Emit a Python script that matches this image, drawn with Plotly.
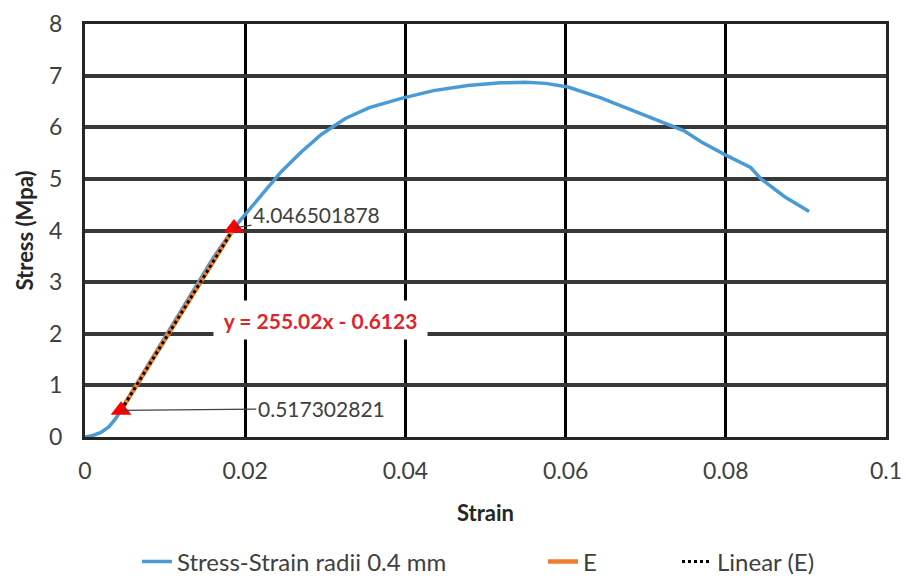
import numpy as np
import plotly.graph_objects as go

# ---- data ----
strain = [0, 0.001, 0.002, 0.003, 0.0038, 0.0045, 0.008, 0.012, 0.016, 0.0186,
          0.0200, 0.0220, 0.0245, 0.0270, 0.0295, 0.0325, 0.0355, 0.0395, 0.0435,
          0.0478, 0.0519, 0.0550, 0.0575, 0.0603, 0.0644, 0.0685, 0.0728, 0.0748,
          0.0769, 0.0800, 0.0831, 0.0844, 0.0873, 0.0904]
stress = [0, 0.03, 0.09, 0.20, 0.35, 0.52, 1.43, 2.45, 3.47, 4.05,
          4.30, 4.68, 5.14, 5.52, 5.86, 6.17, 6.38, 6.56, 6.71,
          6.81, 6.86, 6.87, 6.85, 6.78, 6.57, 6.32, 6.07, 5.93,
          5.72, 5.46, 5.22, 5.00, 4.66, 4.37]

e_strain = [0.0045, 0.0186]
e_stress = [0.517302821, 4.046501878]
e_labels = ["0.517302821", "4.046501878"]
e_label_pos = [(0.0295, 0.552), (0.0289, 4.31)]

equation_text = "y = 255.02x - 0.6123"
equation_pos = (0.0294, 2.27)

x_ticks = [0, 0.02, 0.04, 0.06, 0.08, 0.1]
x_ticktext = ["0", "0.02", "0.04", "0.06", "0.08", "0.1"]
y_ticks = [0, 1, 2, 3, 4, 5, 6, 7, 8]

FONT = "Lato, Liberation Sans, Arial, sans-serif"
TXT = "#404040"

# linear trendline of E
coef = np.polyfit(e_strain, e_stress, 1)
fit_x = np.array(e_strain)
fit_y = np.polyval(coef, fit_x)

fig = go.Figure()
fig.add_trace(go.Scatter(x=strain, y=stress, mode="lines",
                         name="Stress-Strain radii 0.4 mm", legend="legend",
                         line=dict(color="#4a9bd5", width=3.5)))
fig.add_trace(go.Scatter(x=e_strain, y=e_stress, mode="lines", name="E",
                         legend="legend2",
                         line=dict(color="#ed7d31", width=4.5)))
fig.add_trace(go.Scatter(x=fit_x, y=fit_y, mode="lines", name="Linear (E)",
                         legend="legend3",
                         line=dict(color="black", width=3, dash="dot")))
fig.add_trace(go.Scatter(x=e_strain, y=e_stress, mode="markers", showlegend=False,
                         marker=dict(symbol="triangle-up", size=18, color="#ff0000")))

annotations = []
for (xv, yv, lab, (tx, ty)) in zip(e_strain, e_stress, e_labels, e_label_pos):
    annotations.append(dict(x=xv, y=yv, xref="x", yref="y", ax=tx, ay=ty,
                            axref="x", ayref="y", text=lab, showarrow=True,
                            arrowhead=0, arrowwidth=1.2, arrowcolor=TXT,
                            font=dict(family=FONT, size=21, color=TXT)))
annotations.append(dict(x=equation_pos[0], y=equation_pos[1], xref="x", yref="y",
                        text="<b>" + equation_text + "</b>", showarrow=False,
                        bgcolor="white", width=211, height=36, borderpad=1,
                        font=dict(family=FONT, size=21, color="#e0242c")))

leg_common = dict(orientation="h", xref="container", yref="container",
                  xanchor="left", y=1 - 562 / 578, yanchor="middle",
                  font=dict(family=FONT, size=24, color=TXT),
                  bgcolor="rgba(0,0,0,0)")

fig.update_layout(
    width=906, height=578,
    margin=dict(l=85, r=20, t=24, b=141),
    paper_bgcolor="white", plot_bgcolor="white",
    font=dict(family=FONT, size=23, color=TXT),
    annotations=annotations,
    legend=dict(x=137 / 906, **leg_common),
    legend2=dict(x=543 / 906, **leg_common),
    legend3=dict(x=677 / 906, **leg_common),
)
fig.update_xaxes(range=[0, 0.1], tickvals=x_ticks, ticktext=x_ticktext,
                 showgrid=True, gridcolor="black", gridwidth=3,
                 showline=True, linecolor="#262626", linewidth=3, mirror=True,
                 zeroline=False, ticks="", ticklabelstandoff=11,
                 tickfont=dict(family=FONT, size=23, color=TXT),
                 title=dict(text="<b>Strain</b>", standoff=24,
                            font=dict(family=FONT, size=22, color="#262626")),
                 automargin=False)
fig.update_yaxes(range=[0, 8], tickvals=y_ticks,
                 showgrid=True, gridcolor="#383838", gridwidth=3.5,
                 showline=True, linecolor="#262626", linewidth=3, mirror=True,
                 zeroline=False, ticks="", ticklabelstandoff=15,
                 tickfont=dict(family=FONT, size=23, color=TXT),
                 title=dict(text="<b>Stress (Mpa)</b>", standoff=10,
                            font=dict(family=FONT, size=22, color="#262626")),
                 automargin=False)

fig.write_html("out.html")
